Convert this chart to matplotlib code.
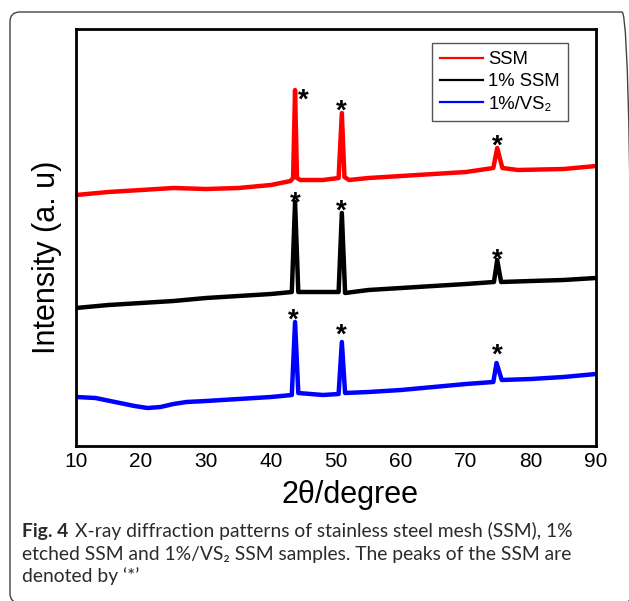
import matplotlib
matplotlib.use("Agg")
import matplotlib.pyplot as plt
from matplotlib import font_manager
from matplotlib.patches import FancyBboxPatch

# XRD traces (2theta in degree, intensity in arbitrary units)
ssm_x = [10, 15, 20, 25, 30, 35, 40, 43.0, 43.4, 43.7, 44.0, 44.5, 48, 50.4, 50.9, 51.3, 52,
         55, 60, 65, 70, 74.2, 74.8, 75.6, 78, 85, 90]
ssm_y = [251, 254, 256, 258, 257, 258, 261, 265, 268, 356, 268, 266, 266, 268, 333, 269, 266,
         268, 270, 272, 274, 278, 298, 278, 276, 277, 280]

etched_x = [10, 15, 20, 25, 30, 35, 40, 43.2, 43.7, 44.2, 48, 50.4, 50.9, 51.4, 55, 60, 65, 70,
            74.3, 74.8, 75.4, 80, 85, 90]
etched_y = [138, 141, 143, 145, 148, 150, 152, 154, 244, 154, 154, 154, 233, 153, 156, 158, 160,
            162, 164, 186, 164, 165, 166, 168]

vs2_x = [10, 13, 16, 19, 21, 23, 25, 27, 30, 35, 40, 43.2, 43.7, 44.2, 48, 50.4, 50.9, 51.4, 55,
         60, 65, 70, 74.2, 74.7, 75.5, 80, 85, 90]
vs2_y = [49, 48, 44, 40, 38, 39, 42, 44, 45, 47, 49, 51, 124, 53, 51, 52, 104, 53, 54, 56, 59,
         62, 64, 83, 66, 67, 69, 72]

series_labels = ["SSM", "1% SSM", "1%/VS\u2082"]

# '*' peak markers (centre of the glyph)
star_x = [44.9, 50.8, 74.8, 43.7, 50.8, 74.8, 43.4, 50.8, 74.8]
star_y = [354, 343, 308, 251, 243, 194, 134, 119, 99]

x_ticks = [10, 20, 30, 40, 50, 60, 70, 80, 90]

caption_bold = "Fig. 4"
caption_lines = ["X-ray diffraction patterns of stainless steel mesh (SSM), 1%",
                 "etched SSM and 1%/VS\u2082 SSM samples. The peaks of the SSM are",
                 "denoted by \u2018*\u2019"]


def pick_font(names):
    for name in names:
        try:
            font_manager.findfont(font_manager.FontProperties(family=name),
                                  fallback_to_default=False)
            return name
        except Exception:
            pass
    return "DejaVu Sans"


W, H = 629, 601
arial = ["Liberation Sans", "DejaVu Sans"]
cap_font = pick_font(["Lato", "Open Sans", "Noto Sans"])
cap_family = [cap_font, "DejaVu Sans"]
cap_size = 14
cap_color = "#2b2b2b"

fig = plt.figure(figsize=(W / 100, H / 100), dpi=100)

# rounded frame of the figure panel (right and bottom sides run off the image)
frame = FancyBboxPatch((10 / W, 1 - 603 / H), 622 / W, (603 - 12) / H,
                       boxstyle="round,pad=0,rounding_size=0.016",
                       transform=fig.transFigure, fill=False, ec="#444444", lw=1.0)
fig.patches.append(frame)

ax = fig.add_axes([76 / W, (H - 446) / H, 520 / W, 417 / H])
ax.plot(ssm_x, ssm_y, color="#ff0000", lw=3.2, label=series_labels[0])
ax.plot(etched_x, etched_y, color="#000000", lw=3.2, label=series_labels[1])
ax.plot(vs2_x, vs2_y, color="#0000ff", lw=3.2, label=series_labels[2])

for sx, sy in zip(star_x, star_y):
    ax.annotate("*", xy=(sx, sy), xytext=(0, -0.55 * 20), textcoords="offset points",
                ha="center", va="baseline", fontsize=20, fontweight="bold", family=arial)

ax.set_xlim(10, 90)
ax.set_ylim(0, 417)
ax.set_xticks(x_ticks)
ax.set_yticks([])
ax.tick_params(axis="x", length=0, pad=4.5, labelsize=15)
for lab in ax.get_xticklabels():
    lab.set_family(arial)
for sp in ax.spines.values():
    sp.set_linewidth(2)

ax.set_xlabel("2\u03b8/degree", fontsize=22, family=arial)
ax.xaxis.set_label_coords(274 / 520, -34 / 417)
ax.set_ylabel("Intensity (a. u)", fontsize=22, family=arial)
ax.yaxis.set_label_coords(-14 / 520, 189 / 417)

leg = ax.legend(loc="upper left", bbox_to_anchor=(432 / W, 1 - 43 / H),
                bbox_transform=fig.transFigure, prop={"family": arial, "size": 13.3},
                handlelength=2.3, handletextpad=0.3, labelspacing=0.28, borderpad=0.45,
                borderaxespad=0, fancybox=False, framealpha=1, edgecolor="#555555")
leg.get_frame().set_linewidth(1.0)
for line in leg.get_lines():
    line.set_linewidth(1.6)

# caption: first line should run from x=22 to about x=577
t0 = fig.text(22 / W, 1 - 537 / H, caption_bold, fontsize=cap_size, fontweight="bold",
              family=cap_family, va="baseline", color=cap_color)
t1 = fig.text(0, 1 - 537 / H, caption_lines[0], fontsize=cap_size,
              family=cap_family, va="baseline", color=cap_color)
fig.canvas.draw()
total = t0.get_window_extent().width + 7 + t1.get_window_extent().width
cap_size = cap_size * (577 - 22) / total
t0.set_fontsize(cap_size)
t1.set_fontsize(cap_size)
fig.canvas.draw()
w0 = t0.get_window_extent().width
t1.set_x((22 + w0 + 7) / W)
fig.text(22 / W, 1 - 560 / H, caption_lines[1], fontsize=cap_size,
         family=cap_family, va="baseline", color=cap_color)
fig.text(22 / W, 1 - 582 / H, caption_lines[2], fontsize=cap_size,
         family=cap_family, va="baseline", color=cap_color)

fig.savefig("out.png", dpi=100)
